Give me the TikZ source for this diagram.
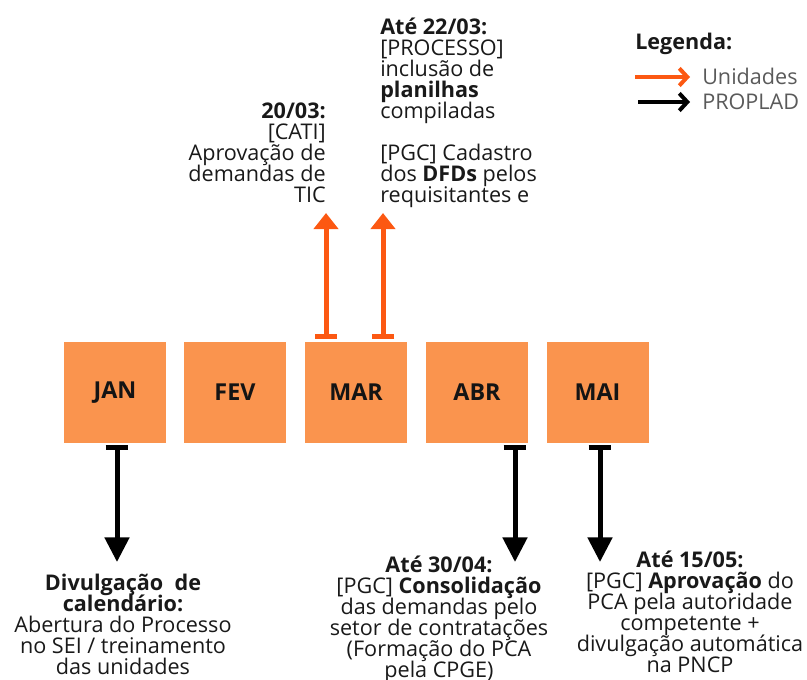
\documentclass[tikz,border=0pt]{standalone}
\usepackage{fontspec}
\setmainfont{Open Sans}
\usetikzlibrary{arrows.meta}
\definecolor{boxorange}{RGB}{250,148,78}
\definecolor{arrorange}{RGB}{252,88,18}
\definecolor{legtext}{RGB}{90,90,90}
\newcommand\myinfofont{\fontsize{16.2}{15.75}\selectfont\lineskiplimit=-20pt\relax}
\begin{document}
\begin{tikzpicture}[x=0.75pt,y=-0.75pt,
  month/.style={fill=boxorange, minimum width=76.5pt, minimum height=75.75pt, inner sep=0pt,
    font=\fontsize{17.5}{17.5}\selectfont\bfseries, text=black!92},
  info/.style={inner sep=0pt, font=\myinfofont, text=black!90},
  uparrow/.style={draw=arrorange, line width=3.75pt, shorten <=2.25pt,
    {Bar[width=16.5pt]}-{Triangle[width=18pt,length=12pt]}},
  downarrow/.style={draw=black, line width=3.75pt, shorten <=1.5pt,
    {Bar[width=17pt]}-{Triangle[width=18pt,length=18.5pt]}},
  legarrow/.style={line width=3pt, -{Straight Barb[length=6pt,width=13pt]}, shorten >=9pt},
]
\useasboundingbox (0,0) rectangle (807,679);
% months
\node[month] (jan) at (115,392.5) {JAN};
\node[month] (fev) at (235,392.5) {FEV};
\node[month] (mar) at (356,392.5) {MAR};
\node[month] (abr) at (477,392.5) {ABR};
\node[month] (mai) at (597.5,392.5) {MAI};
% top texts (anchor = baseline of last line)
\node[info, align=right, anchor=base east] (t1) at (326,202.5)
  {\textbf{20/03:}\\ {[CATI]}\\ Aprovação de\\ demandas de\\ TIC};
\node[info, align=left, anchor=base west] (t2) at (380,202.5)
  {\textbf{Até 22/03:}\\ {[PROCESSO]}\\ inclusão de\\ \textbf{planilhas}\\ compiladas\\[15.75pt]
   {[PGC]} Cadastro\\ dos \textbf{DFDs} pelos\\ requisitantes e};
% bottom texts
\node[info, align=center, anchor=base] (b1) at (123,674.5)
  {\textbf{Divulgação\ \ de}\\ \textbf{calendário:}\\ Abertura do Processo\\ no SEI / treinamento\\ das unidades};
\node[info, align=center, anchor=base] (b2) at (439,677.5)
  {\textbf{Até 30/04:}\\ {[PGC]} \textbf{Consolidação}\\ das demandas pelo\\ setor de contratações\\ (Formação do PCA\\ pela CPGE)};
\node[info, align=center, anchor=base] (b3) at (690,672.5)
  {\textbf{Até 15/05:}\\ {[PGC]} \textbf{Aprovação} do\\ PCA pela autoridade\\ competente +\\ divulgação automática\\ na PNCP};
% arrows
\coordinate (u1) at (326,213);
\coordinate (u2) at (383,213);
\draw[uparrow] (mar.north -| u1) -- (u1);
\draw[uparrow] (mar.north -| u2) -- (u2);
\coordinate (d1) at (117,562);
\coordinate (d2) at (515,562);
\coordinate (d3) at (600,562);
\draw[downarrow] (jan.south -| d1) -- (d1);
\draw[downarrow] (abr.south -| d2) -- (d2);
\draw[downarrow] (mai.south -| d3) -- (d3);
% legend
\node[info, anchor=base west, font=\fontsize{16.2}{16}\selectfont\bfseries] (leg) at (635,49.5) {Legenda:};
\node[info, anchor=base west, text=legtext] (luni) at (702,84.5) {Unidades};
\node[info, anchor=base west, text=legtext] (lpro) at (702,109.5) {PROPLAD};
\coordinate (lo) at (635,77);
\coordinate (lb) at (638,102);
\draw[legarrow, draw=arrorange] (lo) -- (lo -| luni.west);
\draw[legarrow, draw=black] (lb) -- (lb -| lpro.west);
\end{tikzpicture}
\end{document}
